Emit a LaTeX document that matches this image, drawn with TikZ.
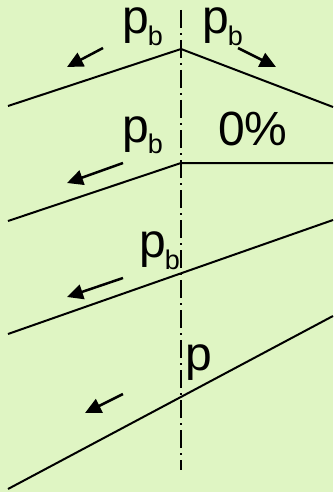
\documentclass[tikz,border=0pt]{standalone}
\usepackage{fontspec}
\setmainfont{Liberation Sans}
\usepackage{xcolor}
\usetikzlibrary{arrows.meta}

\definecolor{bgcol}{RGB}{223,245,195}
\newcommand{\psub}{p\kern-1pt\raisebox{-12pt}{\fontsize{27}{27}\selectfont b}}

\begin{document}
\begin{tikzpicture}[
  x=1pt, y=-1pt,
  grade/.style={line width=2pt, black},
  flow/.style={line width=2.5pt, -{Triangle[length=16pt, width=15pt]}},
  axis/.style={line width=1.5pt, dash pattern=on 18pt off 5pt on 2pt off 5pt},
  lab/.style={anchor=base west, inner sep=0pt, text height=26pt, font=\fontsize{48}{48}\selectfont}
]
  % Background
  \fill[bgcol] (0,0) rectangle (333,492);
  \useasboundingbox (0,0) rectangle (333,492);

  % Axis
  \draw[axis] (181,10) -- (181,470);

  % Case 1: crest
  \coordinate (c1l) at (8,106);
  \coordinate (c1t) at (181,49);
  \coordinate (c1r) at (333,107);
  \draw[grade] (c1l) -- (c1t) -- (c1r);
  \node[lab] (t1l) at (122,34) {\psub};
  \node[lab] (t1r) at (202,34) {\psub};
  \draw[flow] (103,48) -- (67,67);
  \draw[flow] (238,48) -- (276,67);

  % Case 2: into level
  \coordinate (c2l) at (8,221);
  \coordinate (c2t) at (181,163);
  \coordinate (c2r) at (333,163);
  \draw[grade] (c2l) -- (c2t) -- (c2r);
  \node[lab] (t2l) at (122,142) {\psub};
  \node[lab] (t2r) at (218,145) {0\%};
  \draw[flow] (123,163) -- (67,183);

  % Case 3: constant grade
  \coordinate (c3l) at (8,334);
  \coordinate (c3r) at (333,220);
  \draw[grade] (c3l) -- (c3r);
  \node[lab] (t3) at (139,257) {\psub};
  \draw[flow] (123,278) -- (67,297);

  % Case 4: steeper grade
  \coordinate (c4l) at (8,489);
  \coordinate (c4r) at (333,316);
  \draw[grade] (c4l) -- (c4r);
  \node[lab] (t4) at (185,370) {p};
  \draw[flow] (123,394) -- (85,413);

\end{tikzpicture}
\end{document}
